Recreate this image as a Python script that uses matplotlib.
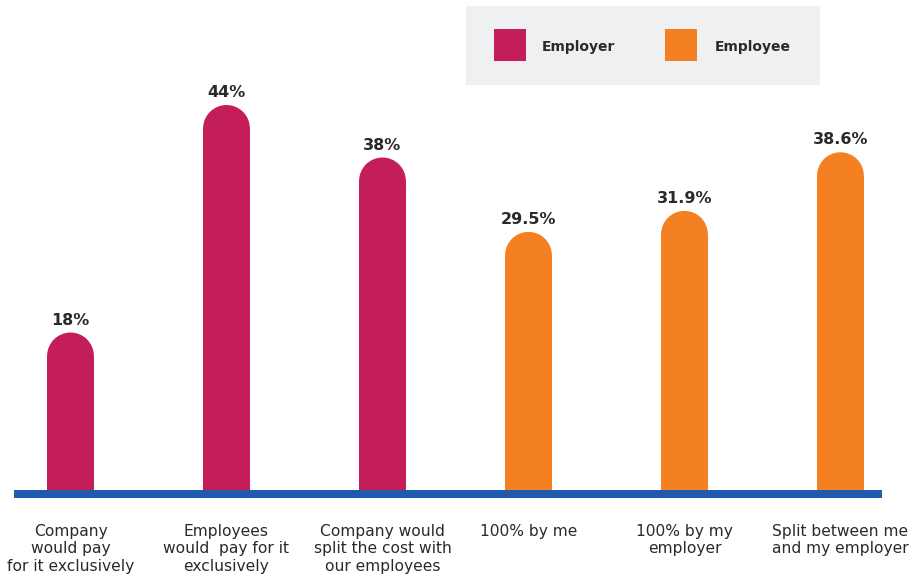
import matplotlib
matplotlib.use("Agg")
import matplotlib.pyplot as plt
from matplotlib.patches import Ellipse, Rectangle

# Survey answers: who should pay for the benefit
employer_labels = ["Company\nwould pay\nfor it exclusively",
                   "Employees\nwould  pay for it\nexclusively",
                   "Company would\nsplit the cost with\nour employees"]
employer_values = [18, 44, 38]
employer_texts = ["18%", "44%", "38%"]

employee_labels = ["100% by me",
                   "100% by my\nemployer",
                   "Split between me\nand my employer"]
employee_values = [29.5, 31.9, 38.6]
employee_texts = ["29.5%", "31.9%", "38.6%"]

series_names = ["Employer", "Employee"]

EMPLOYER_COLOR = "#C41E5A"
EMPLOYEE_COLOR = "#F58021"
BASE_COLOR = "#1F5AAD"
TEXT_COLOR = "#2A2A2A"

W, H = 920, 579
fig = plt.figure(figsize=(W / 100, H / 100), dpi=100)
ax = fig.add_axes([0, 0, 1, 1])
ax.set_xlim(-0.452, 5.446)
ax.set_ylim(-10.17, 56.0)
ax.axis("off")

bar_width = 0.30
group_gap = 0.936
emp_x = [0, 1, 2]
ee_x = [2 + group_gap + i for i in range(3)]

fig.canvas.draw()
# half bar width expressed in y-data units so the cap is a true semicircle
p0 = ax.transData.transform((0, 0))
p1 = ax.transData.transform((bar_width, 1))
px_w = p1[0] - p0[0]
px_per_y = p1[1] - p0[1]
r_y = (px_w / 2) / px_per_y


def rounded_bars(xs, values, texts, color):
    for x, v, t in zip(xs, values, texts):
        ax.bar(x, v - r_y, width=bar_width, bottom=0, color=color,
               linewidth=0, zorder=2)
        ax.add_patch(Ellipse((x, v - r_y), bar_width, 2 * r_y,
                             facecolor=color, edgecolor="none", zorder=2))
        ax.annotate(t, (x, v), xytext=(0, 8), textcoords="offset pixels",
                    ha="center", va="baseline", fontsize=11.5,
                    fontweight="bold", color=TEXT_COLOR,
                    family="DejaVu Sans")


rounded_bars(emp_x, employer_values, employer_texts, EMPLOYER_COLOR)
rounded_bars(ee_x, employee_values, employee_texts, EMPLOYEE_COLOR)

# baseline
ax.axhspan(-0.9, 0, xmin=14 / W, xmax=882 / W, color=BASE_COLOR,
           linewidth=0, zorder=3)

# category labels
label_y = -3.85
for x, lab in zip(emp_x + ee_x, employer_labels + employee_labels):
    ax.text(x, label_y, lab, ha="center", va="top", fontsize=11.2,
            color=TEXT_COLOR, linespacing=1.22, family="DejaVu Sans")

# legend panel
fig.patches.append(Rectangle((466 / W, (H - 85) / H), 354 / W, 79 / H,
                             transform=fig.transFigure, facecolor="#EFF0F2",
                             edgecolor="none", zorder=0))
for sx, tx, name, col in [(494, 542, series_names[0], EMPLOYER_COLOR),
                          (665, 715, series_names[1], EMPLOYEE_COLOR)]:
    fig.patches.append(Rectangle((sx / W, (H - 61) / H), 32 / W, 32 / H,
                                 transform=fig.transFigure, facecolor=col,
                                 edgecolor="none", zorder=1))
    fig.text(tx / W, (H - 47) / H, name, ha="left", va="center",
             fontsize=10, fontweight="bold", color=TEXT_COLOR,
             family="DejaVu Sans")

fig.savefig("out.png", dpi=100)
